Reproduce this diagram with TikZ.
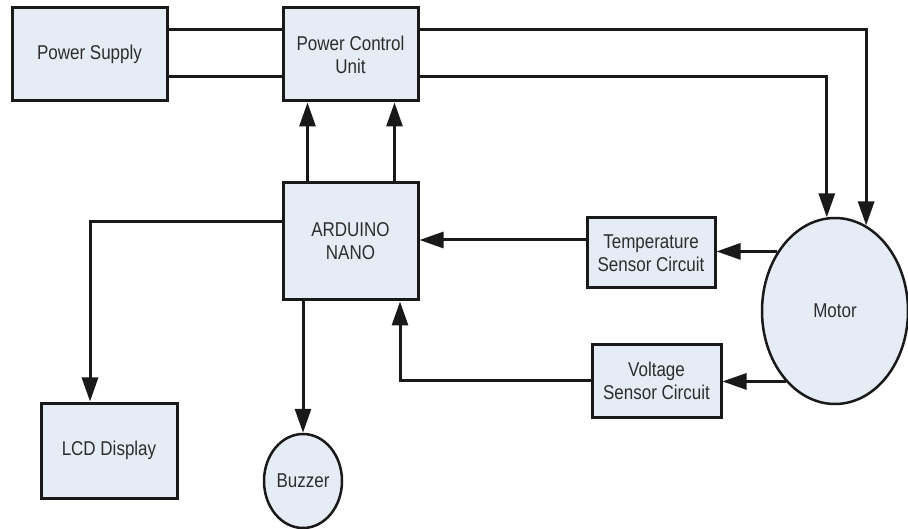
\documentclass[tikz,border=0pt]{standalone}
\usepackage{fontspec}
\setmainfont{Liberation Sans}[FakeStretch=0.85]
\usetikzlibrary{arrows.meta,shapes.geometric}
\definecolor{boxfill}{RGB}{230,236,246}
\definecolor{txt}{RGB}{45,45,45}
\definecolor{edge}{RGB}{25,25,25}
\tikzset{
  blk/.style={draw=edge,line width=3pt,fill=boxfill,rectangle,inner sep=0pt,align=center,text=txt,font=\fontsize{20}{23}\selectfont},
  oval/.style={draw=edge,line width=2.5pt,fill=boxfill,ellipse,inner sep=0pt,align=center,text=txt,font=\fontsize{20}{23}\selectfont},
  arr/.style={draw=edge,line width=3pt,-{Triangle[length=24pt,width=16pt]}},
  ln/.style={draw=edge,line width=3pt},
}
\begin{document}
\begin{tikzpicture}[x=1pt,y=-1pt]
\useasboundingbox (0,0) rectangle (908,529);
\node[blk,minimum width=155pt,minimum height=93pt] (ps) at (89.5,54.5) {Power Supply};
\node[blk,minimum width=135pt,minimum height=93pt] (pcu) at (350.5,54.5) {Power Control\\Unit};
\node[blk,minimum width=135pt,minimum height=117pt] (ard) at (350.5,241.5) {ARDUINO\\NANO};
\node[blk,minimum width=136pt,minimum height=95pt] (lcd) at (109,450.5) {LCD Display};
\node[oval,minimum width=78pt,minimum height=94pt] (buz) at (303,481) {Buzzer};
\node[blk,minimum width=128pt,minimum height=70pt] (temp) at (651,253) {Temperature\\Sensor Circuit};
\node[blk,minimum width=129pt,minimum height=72pt] (volt) at (656.5,381) {Voltage\\Sensor Circuit};
\node[oval,minimum width=146pt,minimum height=186pt] (motor) at (835,311) {Motor};
% power supply to power control unit
\draw[ln] ([yshift=-23pt]ps.north east) -- ([yshift=-23pt]pcu.north west);
\draw[ln] ([yshift=26pt]ps.south east) -- ([yshift=26pt]pcu.south west);
% power control unit to motor
\draw[arr] ([yshift=-23pt]pcu.north east) -| (motor.70.6);
\draw[arr] ([yshift=26pt]pcu.south east) -| (motor.95);
% arduino to power control unit
\draw[arr] ([xshift=-43pt]ard.north) -- ([xshift=-43pt]pcu.south);
\draw[arr] ([xshift=44pt]ard.north) -- ([xshift=44pt]pcu.south);
% arduino to lcd and buzzer
\draw[arr] ([yshift=20pt]ard.west) -| ([xshift=-19pt]lcd.north);
\draw[arr] (buz.north |- ard.south) -- (buz.north);
% sensors
\coordinate (t1) at ([yshift=13pt]temp.west);
\draw[arr] (t1) -- (t1 -| ard.east);
\draw[arr] (motor.134.5) -- (temp.east |- motor.134.5);
\draw[arr] (motor.235.6) -- (volt.east |- motor.235.6);
\draw[arr] (volt.west) -| ([xshift=49.5pt]ard.south);
\end{tikzpicture}
\end{document}
